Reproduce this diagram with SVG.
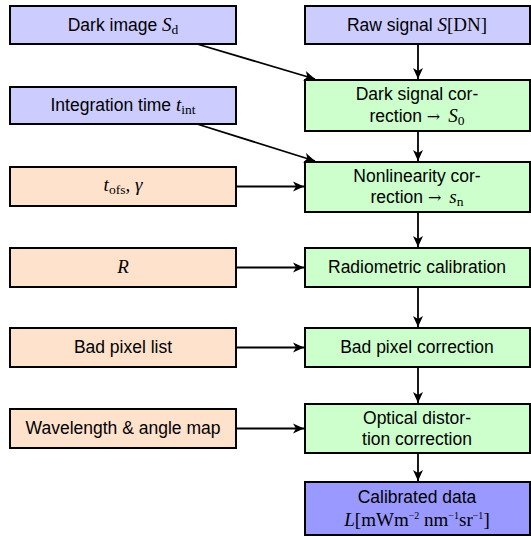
<svg xmlns="http://www.w3.org/2000/svg" width="531" height="536" viewBox="0 0 531 536">
<defs>
<marker id="ah" markerUnits="userSpaceOnUse" markerWidth="12" markerHeight="12" viewBox="0 0 12 12" refX="11" refY="6" orient="auto">
<path d="M0,1 L11,6 L0,11 L3,6 Z" fill="#000"/>
</marker>
</defs>
<style>
rect{stroke:#000;stroke-width:2}
.blue{fill:#ccccff}
.green{fill:#ccffcc}
.peach{fill:#ffe2cc}
.dark{fill:#9999ff}
text{font-family:"Liberation Sans","DejaVu Sans",sans-serif;font-size:17.5px;fill:#000;text-anchor:middle}
.mi{font-family:"Liberation Serif","DejaVu Serif",serif;font-style:italic;font-size:19px}
.rm{font-family:"Liberation Serif","DejaVu Serif",serif;font-size:19px}
.ar{font-family:"DejaVu Serif",serif;font-size:16px}
.sub{font-family:"Liberation Serif","DejaVu Serif",serif;font-size:13.5px}
.sup{font-family:"Liberation Serif","DejaVu Serif",serif;font-size:10px}
.c line{stroke:#000;stroke-width:1.8;fill:none;marker-end:url(#ah)}
</style>
<g id="dark_image">
<rect class="blue" x="10" y="6" width="226" height="38"/>
<text x="123" y="31">Dark image <tspan class="mi">S</tspan><tspan class="sub" dy="3">d</tspan></text>
</g>
<g id="raw_signal">
<rect class="blue" x="305" y="6" width="225" height="38"/>
<text x="417" y="31">Raw signal <tspan class="mi">S</tspan><tspan class="rm">[DN]</tspan></text>
</g>
<g id="integration_time">
<rect class="blue" x="10" y="87" width="226" height="37"/>
<text x="123" y="111">Integration time <tspan class="mi">t</tspan><tspan class="sub" dy="3">int</tspan></text>
</g>
<g id="dark_signal_correction">
<rect class="green" x="305" y="80" width="225" height="51"/>
<text x="417" y="100">Dark signal cor-</text>
<text x="417" y="122">rection <tspan class="ar">→</tspan><tspan class="mi" dx="8">S</tspan><tspan class="sub" dy="3">0</tspan></text>
</g>
<g id="tofs_gamma">
<rect class="peach" x="10" y="167" width="226" height="39"/>
<text x="123" y="191"><tspan class="mi">t</tspan><tspan class="sub" dy="3">ofs</tspan><tspan class="rm" dy="-3">, </tspan><tspan class="mi">γ</tspan></text>
</g>
<g id="nonlinearity_correction">
<rect class="green" x="305" y="162" width="225" height="50"/>
<text x="417" y="182">Nonlinearity cor-</text>
<text x="417" y="203">rection <tspan class="ar">→</tspan><tspan class="mi" dx="8">s</tspan><tspan class="sub" dy="3">n</tspan></text>
</g>
<g id="R">
<rect class="peach" x="10" y="248" width="226" height="39"/>
<text x="123" y="273"><tspan class="mi">R</tspan></text>
</g>
<g id="radiometric_calibration">
<rect class="green" x="305" y="248" width="225" height="39"/>
<text x="417" y="273">Radiometric calibration</text>
</g>
<g id="bad_pixel_list">
<rect class="peach" x="10" y="328" width="226" height="39"/>
<text x="123" y="353">Bad pixel list</text>
</g>
<g id="bad_pixel_correction">
<rect class="green" x="305" y="328" width="225" height="39"/>
<text x="417" y="353">Bad pixel correction</text>
</g>
<g id="wavelength_angle_map">
<rect class="peach" x="10" y="409" width="226" height="39"/>
<text x="123" y="434">Wavelength &amp; angle map</text>
</g>
<g id="optical_distortion_correction">
<rect class="green" x="305" y="404" width="225" height="49"/>
<text x="417" y="424">Optical distor-</text>
<text x="417" y="445">tion correction</text>
</g>
<g id="calibrated_data">
<rect class="dark" x="305" y="482" width="225" height="53"/>
<text x="417" y="503">Calibrated data</text>
<text x="417" y="526"><tspan class="mi">L</tspan><tspan class="rm">[mWm</tspan><tspan class="sup" dy="-7">−2</tspan><tspan class="rm" dy="7"> nm</tspan><tspan class="sup" dy="-7">−1</tspan><tspan class="rm" dy="7">sr</tspan><tspan class="sup" dy="-7">−1</tspan><tspan class="rm" dy="7">]</tspan></text>
</g>
<g id="connectors" class="c">
<line x1="418" y1="44" x2="418" y2="79"/>
<line x1="418" y1="131" x2="418" y2="161"/>
<line x1="418" y1="212" x2="418" y2="247"/>
<line x1="418" y1="287" x2="418" y2="327"/>
<line x1="418" y1="367" x2="418" y2="403"/>
<line x1="418" y1="453" x2="418" y2="481"/>
<line x1="197" y1="44" x2="315" y2="79"/>
<line x1="197" y1="124" x2="315" y2="161"/>
<line x1="236" y1="186.5" x2="304" y2="186.5"/>
<line x1="236" y1="267.5" x2="304" y2="267.5"/>
<line x1="236" y1="347.5" x2="304" y2="347.5"/>
<line x1="236" y1="428.5" x2="304" y2="428.5"/>
</g>
</svg>
